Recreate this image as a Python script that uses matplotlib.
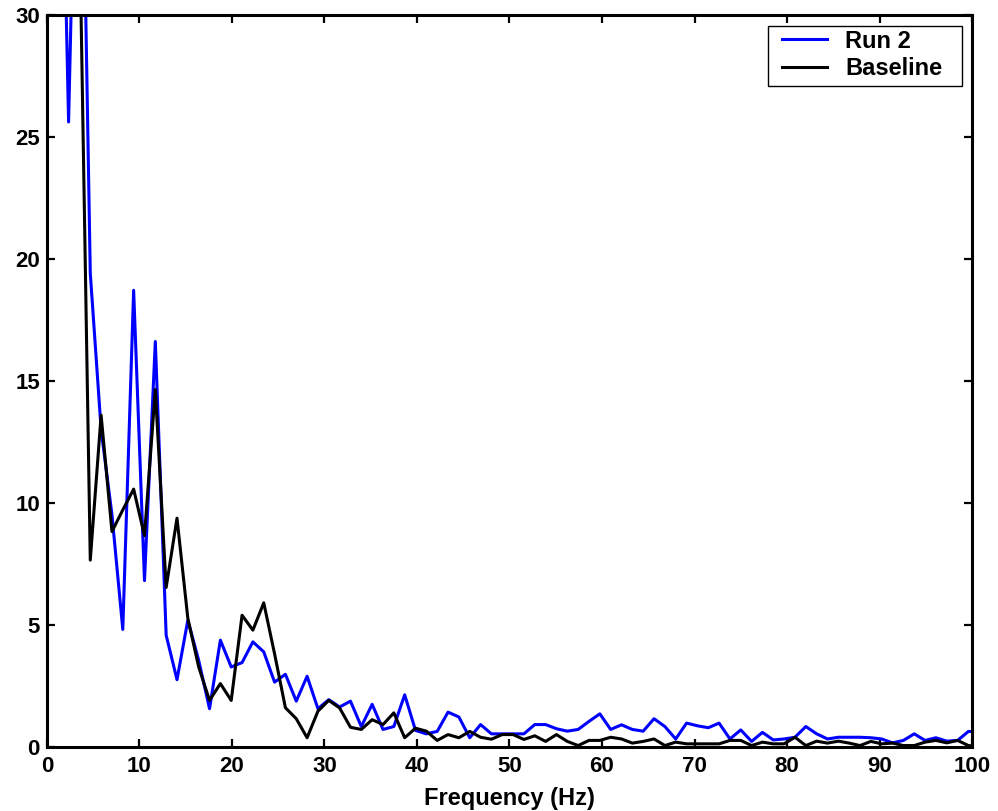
import numpy as np
import matplotlib
matplotlib.use('Agg')
import matplotlib.pyplot as plt
from matplotlib.patches import Rectangle

# ── 데이터 ────────────────────────────────────────────────────────
DF = 1.171875  # 주파수 간격 [Hz]

run2 = [80.0, 46.0, 25.6, 45.0, 19.4, 13.0, 9.5, 4.8, 18.7, 6.8,
        16.6, 4.56, 2.74, 5.18, 3.53, 1.55, 4.36, 3.26, 3.44, 4.29,
        3.88, 2.64, 2.96, 1.86, 2.88, 1.55, 1.92, 1.62, 1.86, 0.82,
        1.73, 0.70, 0.82, 2.12, 0.66, 0.52, 0.62, 1.41, 1.21, 0.36,
        0.90, 0.52, 0.52, 0.52, 0.52, 0.90, 0.90, 0.73, 0.63, 0.70,
        1.03, 1.34, 0.70, 0.89, 0.70, 0.63, 1.14, 0.82, 0.31, 0.96,
        0.85, 0.77, 0.96, 0.31, 0.68, 0.21, 0.58, 0.27, 0.31, 0.38,
        0.82, 0.52, 0.31, 0.38, 0.38, 0.38, 0.36, 0.31, 0.15, 0.25,
        0.52, 0.25, 0.36, 0.22, 0.25, 0.62, 0.60]

baseline = [60.0, 50.0, 45.0, 34.0, 7.64, 13.58, 8.81, 9.7, 10.55, 8.64,
            14.63, 6.52, 9.36, 5.25, 3.26, 1.89, 2.58, 1.89, 5.38, 4.77,
            5.89, 3.8, 1.59, 1.14, 0.36, 1.45, 1.89, 1.58, 0.79, 0.70,
            1.10, 0.90, 1.38, 0.36, 0.75, 0.63, 0.25, 0.49, 0.36, 0.62,
            0.38, 0.30, 0.49, 0.49, 0.29, 0.44, 0.21, 0.49, 0.21, 0.04,
            0.25, 0.25, 0.38, 0.31, 0.14, 0.21, 0.31, 0.04, 0.18, 0.11,
            0.11, 0.11, 0.11, 0.25, 0.25, 0.04, 0.18, 0.11, 0.11, 0.38,
            0.04, 0.22, 0.14, 0.22, 0.14, 0.04, 0.21, 0.11, 0.14, 0.04,
            0.04, 0.18, 0.25, 0.15, 0.25, 0.04, 0.0]

freq = np.arange(len(run2)) * DF

# ── 스타일 ────────────────────────────────────────────────────────────
plt.rcParams['font.family'] = ['Liberation Sans', 'DejaVu Sans']
plt.rcParams['font.weight'] = 'bold'
FS_TICK = 16
FS_LABEL = 17

fig = plt.figure(figsize=(9.98, 8.11), dpi=100, facecolor='white')
ax = fig.add_axes([0.047, 0.0795, 0.927, 0.9025])

ax.plot(freq, run2, color='#0000ff', lw=2.2, label='Run 2')
ax.plot(freq, baseline, color='black', lw=2.2, label='Baseline')

ax.set_xlim(0, 100)
ax.set_ylim(0, 30)
ax.set_xticks(np.arange(0, 101, 10))
ax.set_yticks(np.arange(0, 31, 5))
ax.tick_params(direction='in', top=True, right=True, length=6, width=1.6,
               labelsize=FS_TICK)
ax.tick_params(axis='x', pad=7)
ax.tick_params(axis='y', pad=5)
for lbl in ax.get_xticklabels() + ax.get_yticklabels():
    lbl.set_fontweight('bold')
for sp in ax.spines.values():
    sp.set_linewidth(2.2)

ax.set_xlabel('Frequency (Hz)', fontsize=FS_LABEL, fontweight='bold', labelpad=7)

# 범례: 틀 없이 배치한 뒤, 원본처럼 좌우 여백이 넓은 사각형 틀을 따로 그림
leg = ax.legend(loc='upper right', bbox_to_anchor=(1 - 30 / 925, 1 - 15 / 733),
                fontsize=FS_LABEL, frameon=False, borderpad=0, borderaxespad=0,
                handlelength=1.9, handletextpad=0.75, labelspacing=0.18)
fig.canvas.draw()
bb = leg.get_window_extent()
W, H = fig.bbox.width, fig.bbox.height
pad_l, pad_r, pad_t, pad_b = 14, 20, 4, 6
frame = Rectangle(((bb.x0 - pad_l) / W, (bb.y0 - pad_b) / H),
                  (bb.width + pad_l + pad_r) / W, (bb.height + pad_t + pad_b) / H,
                  transform=fig.transFigure, facecolor='white', edgecolor='black',
                  lw=1.0, zorder=4)
fig.patches.append(frame)
leg.set_zorder(5)
leg.remove()
fig.legends.append(leg)
leg.figure = fig

fig.savefig('out.png', dpi=100, facecolor='white')
